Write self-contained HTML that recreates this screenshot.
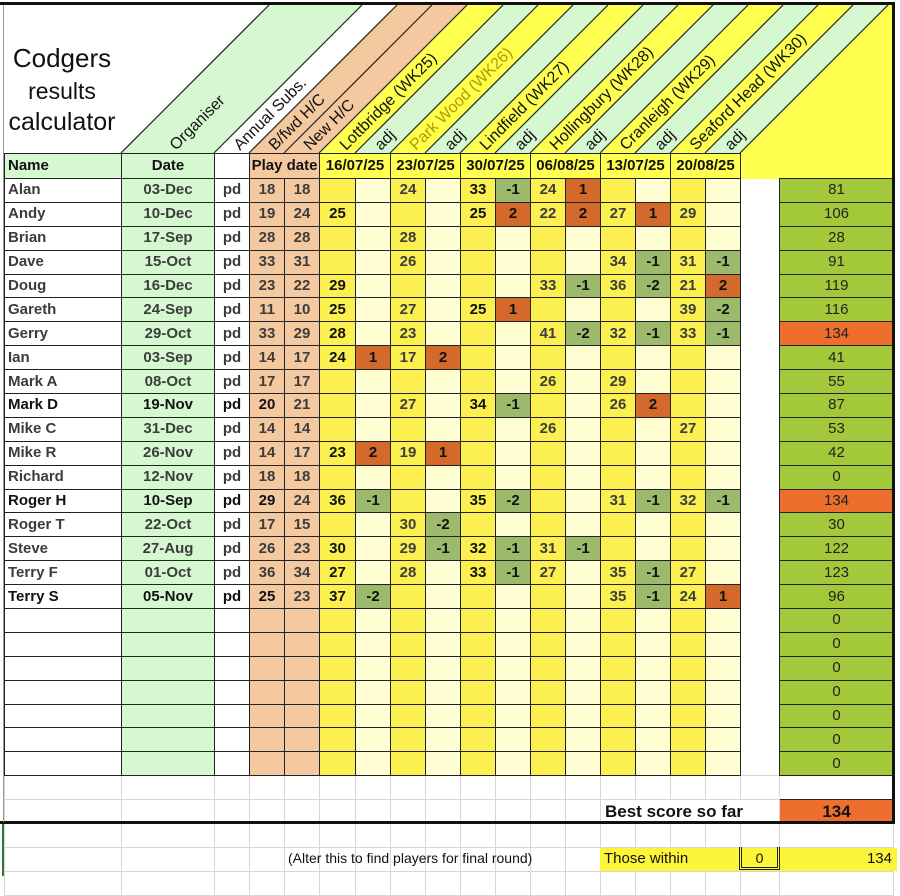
<!DOCTYPE html>
<html><head><meta charset="utf-8">
<style>
body{margin:0;background:#fff;width:900px;height:876px;position:relative;overflow:hidden;font-family:"Liberation Sans",Arial,sans-serif;}
table{position:absolute;left:4px;top:153px;border-collapse:collapse;table-layout:fixed;}
td{padding:0;border:1px solid #222;font-size:15px;font-weight:bold;text-align:center;color:#3c3c3c;overflow:hidden;white-space:nowrap;line-height:20px;}
tr.r td{height:22.9px;}
tr.hd td{height:24px;color:#111;}
td.n{background:#fff;text-align:left;padding-left:3px;}
td.d{background:#d5f8d0;}
td.p{background:#fff;}
td.h{background:#f5c9a0;}
td.s{background:#fbf04f;}
td.a{background:#fffdd2;color:#111;}
td.a.neg{background:#9dba6c;}
td.a.pos{background:#d3692b;}
td.g{background:#fff;border-top:none;border-bottom:none;}
td.t{background:#a3c93a;font-weight:normal;font-size:15px;color:#222;}
td.t.o{background:#ee6e2e;}
tr.r td:nth-child(6),tr.r td:nth-child(10){color:#111;}
tr.b td:nth-child(-n+4){color:#111;}
tr.e td{height:23px;border:1px solid #d6d6d6;background:#fff;}
td.y{background:#ffff50;}
</style></head><body>
<svg width="900" height="160" style="position:absolute;left:0;top:0">
<g stroke="none">
<polygon points="121,153 214,153 362,5 269,5" fill="#d5f8d0"/>
<polygon points="214,153 249,153 397,5 362,5" fill="#fff"/>
<polygon points="249,153 319,153 467,5 397,5" fill="#f5c9a0"/>
<polygon points="319,153 355,153 503,5 467,5" fill="#ffff50"/>
<polygon points="355,153 390,153 538,5 503,5" fill="#d5f8d0"/>
<polygon points="390,153 425,153 573,5 538,5" fill="#ffff50"/>
<polygon points="425,153 460,153 608,5 573,5" fill="#d5f8d0"/>
<polygon points="460,153 495,153 643,5 608,5" fill="#ffff50"/>
<polygon points="495,153 530,153 678,5 643,5" fill="#d5f8d0"/>
<polygon points="530,153 565,153 713,5 678,5" fill="#ffff50"/>
<polygon points="565,153 600,153 748,5 713,5" fill="#d5f8d0"/>
<polygon points="600,153 635,153 783,5 748,5" fill="#ffff50"/>
<polygon points="635,153 670,153 818,5 783,5" fill="#d5f8d0"/>
<polygon points="670,153 705,153 853,5 818,5" fill="#ffff50"/>
<polygon points="705,153 740,153 888,5 853,5" fill="#d5f8d0"/>
<polygon points="740,153 888,5 893,5 893,160 740,160" fill="#ffff50"/>
</g>
<g stroke="#222" stroke-width="1.2">
<line x1="121" y1="153" x2="269" y2="5"/><line x1="214" y1="153" x2="362" y2="5"/>
<line x1="249" y1="153" x2="397" y2="5"/><line x1="284" y1="153" x2="432" y2="5"/>
<line x1="319" y1="153" x2="467" y2="5"/><line x1="355" y1="153" x2="503" y2="5"/>
<line x1="390" y1="153" x2="538" y2="5"/><line x1="425" y1="153" x2="573" y2="5"/>
<line x1="460" y1="153" x2="608" y2="5"/><line x1="495" y1="153" x2="643" y2="5"/>
<line x1="530" y1="153" x2="678" y2="5"/><line x1="565" y1="153" x2="713" y2="5"/>
<line x1="600" y1="153" x2="748" y2="5"/><line x1="635" y1="153" x2="783" y2="5"/>
<line x1="670" y1="153" x2="818" y2="5"/><line x1="705" y1="153" x2="853" y2="5"/>
<line x1="740" y1="153" x2="888" y2="5"/>
</g>
<g font-family="Liberation Sans, Arial, sans-serif" font-size="16" fill="#111">
<text transform="translate(176,151) rotate(-45)">Organiser</text>
<text transform="translate(240,151) rotate(-45)">Annual Subs.</text>
<text transform="translate(275,151) rotate(-45)">B/fwd H/C</text>
<text transform="translate(310,151) rotate(-45)">New H/C</text>
<text transform="translate(346,151) rotate(-45)">Lottbridge (WK25)</text>
<text transform="translate(381,151) rotate(-45)">adj</text>
<text transform="translate(416,151) rotate(-45)" fill="#b59500">Park Wood (WK26)</text>
<text transform="translate(451,151) rotate(-45)">adj</text>
<text transform="translate(486,151) rotate(-45)">Lindfield (WK27)</text>
<text transform="translate(521,151) rotate(-45)">adj</text>
<text transform="translate(556,151) rotate(-45)">Hollingbury (WK28)</text>
<text transform="translate(591,151) rotate(-45)">adj</text>
<text transform="translate(626,151) rotate(-45)">Cranleigh (WK29)</text>
<text transform="translate(661,151) rotate(-45)">adj</text>
<text transform="translate(696,151) rotate(-45)">Seaford Head (WK30)</text>
<text transform="translate(731,151) rotate(-45)">adj</text>
</g>
<g font-family="Liberation Sans, Arial, sans-serif" fill="#111" text-anchor="middle">
<text x="62" y="67" font-size="26">Codgers</text>
<text x="62" y="99" font-size="23">results</text>
<text x="62" y="130" font-size="25">calculator</text>
</g>
</svg>
<table>
<colgroup><col style="width:117px"><col style="width:93px"><col style="width:35px"><col style="width:35px"><col style="width:35px"><col style="width:36px"><col style="width:35px"><col style="width:35px"><col style="width:35px"><col style="width:35px"><col style="width:35px"><col style="width:35px"><col style="width:35px"><col style="width:35px"><col style="width:35px"><col style="width:35px"><col style="width:35px"><col style="width:39px"><col style="width:114px"></colgroup>
<tr class="hd"><td class="n d" style="text-align:left;padding-left:3px;background:#d5f8d0">Name</td><td class="d" style="color:#111">Date</td><td class="p"></td><td class="h" colspan="2" style="color:#111">Play date</td><td class="y" colspan="2">16/07/25</td><td class="y" colspan="2">23/07/25</td><td class="y" colspan="2">30/07/25</td><td class="y" colspan="2">06/08/25</td><td class="y" colspan="2">13/07/25</td><td class="y" colspan="2">20/08/25</td><td class="y" style="border:none"></td><td class="y" style="border:none"></td></tr>
<tr class="r"><td class="n">Alan</td><td class="d">03-Dec</td><td class="p">pd</td><td class="h">18</td><td class="h">18</td><td class="s"></td><td class="a"></td><td class="s">24</td><td class="a"></td><td class="s">33</td><td class="a neg">-1</td><td class="s">24</td><td class="a pos">1</td><td class="s"></td><td class="a"></td><td class="s"></td><td class="a"></td><td class="g"></td><td class="t">81</td></tr>
<tr class="r"><td class="n">Andy</td><td class="d">10-Dec</td><td class="p">pd</td><td class="h">19</td><td class="h">24</td><td class="s">25</td><td class="a"></td><td class="s"></td><td class="a"></td><td class="s">25</td><td class="a pos">2</td><td class="s">22</td><td class="a pos">2</td><td class="s">27</td><td class="a pos">1</td><td class="s">29</td><td class="a"></td><td class="g"></td><td class="t">106</td></tr>
<tr class="r"><td class="n">Brian</td><td class="d">17-Sep</td><td class="p">pd</td><td class="h">28</td><td class="h">28</td><td class="s"></td><td class="a"></td><td class="s">28</td><td class="a"></td><td class="s"></td><td class="a"></td><td class="s"></td><td class="a"></td><td class="s"></td><td class="a"></td><td class="s"></td><td class="a"></td><td class="g"></td><td class="t">28</td></tr>
<tr class="r"><td class="n">Dave</td><td class="d">15-Oct</td><td class="p">pd</td><td class="h">33</td><td class="h">31</td><td class="s"></td><td class="a"></td><td class="s">26</td><td class="a"></td><td class="s"></td><td class="a"></td><td class="s"></td><td class="a"></td><td class="s">34</td><td class="a neg">-1</td><td class="s">31</td><td class="a neg">-1</td><td class="g"></td><td class="t">91</td></tr>
<tr class="r"><td class="n">Doug</td><td class="d">16-Dec</td><td class="p">pd</td><td class="h">23</td><td class="h">22</td><td class="s">29</td><td class="a"></td><td class="s"></td><td class="a"></td><td class="s"></td><td class="a"></td><td class="s">33</td><td class="a neg">-1</td><td class="s">36</td><td class="a neg">-2</td><td class="s">21</td><td class="a pos">2</td><td class="g"></td><td class="t">119</td></tr>
<tr class="r"><td class="n">Gareth</td><td class="d">24-Sep</td><td class="p">pd</td><td class="h">11</td><td class="h">10</td><td class="s">25</td><td class="a"></td><td class="s">27</td><td class="a"></td><td class="s">25</td><td class="a pos">1</td><td class="s"></td><td class="a"></td><td class="s"></td><td class="a"></td><td class="s">39</td><td class="a neg">-2</td><td class="g"></td><td class="t">116</td></tr>
<tr class="r"><td class="n">Gerry</td><td class="d">29-Oct</td><td class="p">pd</td><td class="h">33</td><td class="h">29</td><td class="s">28</td><td class="a"></td><td class="s">23</td><td class="a"></td><td class="s"></td><td class="a"></td><td class="s">41</td><td class="a neg">-2</td><td class="s">32</td><td class="a neg">-1</td><td class="s">33</td><td class="a neg">-1</td><td class="g"></td><td class="t o">134</td></tr>
<tr class="r"><td class="n">Ian</td><td class="d">03-Sep</td><td class="p">pd</td><td class="h">14</td><td class="h">17</td><td class="s">24</td><td class="a pos">1</td><td class="s">17</td><td class="a pos">2</td><td class="s"></td><td class="a"></td><td class="s"></td><td class="a"></td><td class="s"></td><td class="a"></td><td class="s"></td><td class="a"></td><td class="g"></td><td class="t">41</td></tr>
<tr class="r"><td class="n">Mark A</td><td class="d">08-Oct</td><td class="p">pd</td><td class="h">17</td><td class="h">17</td><td class="s"></td><td class="a"></td><td class="s"></td><td class="a"></td><td class="s"></td><td class="a"></td><td class="s">26</td><td class="a"></td><td class="s">29</td><td class="a"></td><td class="s"></td><td class="a"></td><td class="g"></td><td class="t">55</td></tr>
<tr class="r b"><td class="n">Mark D</td><td class="d">19-Nov</td><td class="p">pd</td><td class="h">20</td><td class="h">21</td><td class="s"></td><td class="a"></td><td class="s">27</td><td class="a"></td><td class="s">34</td><td class="a neg">-1</td><td class="s"></td><td class="a"></td><td class="s">26</td><td class="a pos">2</td><td class="s"></td><td class="a"></td><td class="g"></td><td class="t">87</td></tr>
<tr class="r"><td class="n">Mike C</td><td class="d">31-Dec</td><td class="p">pd</td><td class="h">14</td><td class="h">14</td><td class="s"></td><td class="a"></td><td class="s"></td><td class="a"></td><td class="s"></td><td class="a"></td><td class="s">26</td><td class="a"></td><td class="s"></td><td class="a"></td><td class="s">27</td><td class="a"></td><td class="g"></td><td class="t">53</td></tr>
<tr class="r"><td class="n">Mike R</td><td class="d">26-Nov</td><td class="p">pd</td><td class="h">14</td><td class="h">17</td><td class="s">23</td><td class="a pos">2</td><td class="s">19</td><td class="a pos">1</td><td class="s"></td><td class="a"></td><td class="s"></td><td class="a"></td><td class="s"></td><td class="a"></td><td class="s"></td><td class="a"></td><td class="g"></td><td class="t">42</td></tr>
<tr class="r"><td class="n">Richard</td><td class="d">12-Nov</td><td class="p">pd</td><td class="h">18</td><td class="h">18</td><td class="s"></td><td class="a"></td><td class="s"></td><td class="a"></td><td class="s"></td><td class="a"></td><td class="s"></td><td class="a"></td><td class="s"></td><td class="a"></td><td class="s"></td><td class="a"></td><td class="g"></td><td class="t">0</td></tr>
<tr class="r b"><td class="n">Roger H</td><td class="d">10-Sep</td><td class="p">pd</td><td class="h">29</td><td class="h">24</td><td class="s">36</td><td class="a neg">-1</td><td class="s"></td><td class="a"></td><td class="s">35</td><td class="a neg">-2</td><td class="s"></td><td class="a"></td><td class="s">31</td><td class="a neg">-1</td><td class="s">32</td><td class="a neg">-1</td><td class="g"></td><td class="t o">134</td></tr>
<tr class="r"><td class="n">Roger T</td><td class="d">22-Oct</td><td class="p">pd</td><td class="h">17</td><td class="h">15</td><td class="s"></td><td class="a"></td><td class="s">30</td><td class="a neg">-2</td><td class="s"></td><td class="a"></td><td class="s"></td><td class="a"></td><td class="s"></td><td class="a"></td><td class="s"></td><td class="a"></td><td class="g"></td><td class="t">30</td></tr>
<tr class="r"><td class="n">Steve</td><td class="d">27-Aug</td><td class="p">pd</td><td class="h">26</td><td class="h">23</td><td class="s">30</td><td class="a"></td><td class="s">29</td><td class="a neg">-1</td><td class="s">32</td><td class="a neg">-1</td><td class="s">31</td><td class="a neg">-1</td><td class="s"></td><td class="a"></td><td class="s"></td><td class="a"></td><td class="g"></td><td class="t">122</td></tr>
<tr class="r"><td class="n">Terry F</td><td class="d">01-Oct</td><td class="p">pd</td><td class="h">36</td><td class="h">34</td><td class="s">27</td><td class="a"></td><td class="s">28</td><td class="a"></td><td class="s">33</td><td class="a neg">-1</td><td class="s">27</td><td class="a"></td><td class="s">35</td><td class="a neg">-1</td><td class="s">27</td><td class="a"></td><td class="g"></td><td class="t">123</td></tr>
<tr class="r b"><td class="n">Terry S</td><td class="d">05-Nov</td><td class="p">pd</td><td class="h">25</td><td class="h">23</td><td class="s">37</td><td class="a neg">-2</td><td class="s"></td><td class="a"></td><td class="s"></td><td class="a"></td><td class="s"></td><td class="a"></td><td class="s">35</td><td class="a neg">-1</td><td class="s">24</td><td class="a pos">1</td><td class="g"></td><td class="t">96</td></tr>
<tr class="r"><td class="n"></td><td class="d"></td><td class="p"></td><td class="h"></td><td class="h"></td><td class="s"></td><td class="a"></td><td class="s"></td><td class="a"></td><td class="s"></td><td class="a"></td><td class="s"></td><td class="a"></td><td class="s"></td><td class="a"></td><td class="s"></td><td class="a"></td><td class="g"></td><td class="t">0</td></tr>
<tr class="r"><td class="n"></td><td class="d"></td><td class="p"></td><td class="h"></td><td class="h"></td><td class="s"></td><td class="a"></td><td class="s"></td><td class="a"></td><td class="s"></td><td class="a"></td><td class="s"></td><td class="a"></td><td class="s"></td><td class="a"></td><td class="s"></td><td class="a"></td><td class="g"></td><td class="t">0</td></tr>
<tr class="r"><td class="n"></td><td class="d"></td><td class="p"></td><td class="h"></td><td class="h"></td><td class="s"></td><td class="a"></td><td class="s"></td><td class="a"></td><td class="s"></td><td class="a"></td><td class="s"></td><td class="a"></td><td class="s"></td><td class="a"></td><td class="s"></td><td class="a"></td><td class="g"></td><td class="t">0</td></tr>
<tr class="r"><td class="n"></td><td class="d"></td><td class="p"></td><td class="h"></td><td class="h"></td><td class="s"></td><td class="a"></td><td class="s"></td><td class="a"></td><td class="s"></td><td class="a"></td><td class="s"></td><td class="a"></td><td class="s"></td><td class="a"></td><td class="s"></td><td class="a"></td><td class="g"></td><td class="t">0</td></tr>
<tr class="r"><td class="n"></td><td class="d"></td><td class="p"></td><td class="h"></td><td class="h"></td><td class="s"></td><td class="a"></td><td class="s"></td><td class="a"></td><td class="s"></td><td class="a"></td><td class="s"></td><td class="a"></td><td class="s"></td><td class="a"></td><td class="s"></td><td class="a"></td><td class="g"></td><td class="t">0</td></tr>
<tr class="r"><td class="n"></td><td class="d"></td><td class="p"></td><td class="h"></td><td class="h"></td><td class="s"></td><td class="a"></td><td class="s"></td><td class="a"></td><td class="s"></td><td class="a"></td><td class="s"></td><td class="a"></td><td class="s"></td><td class="a"></td><td class="s"></td><td class="a"></td><td class="g"></td><td class="t">0</td></tr>
<tr class="r"><td class="n"></td><td class="d"></td><td class="p"></td><td class="h"></td><td class="h"></td><td class="s"></td><td class="a"></td><td class="s"></td><td class="a"></td><td class="s"></td><td class="a"></td><td class="s"></td><td class="a"></td><td class="s"></td><td class="a"></td><td class="s"></td><td class="a"></td><td class="g"></td><td class="t">0</td></tr>
<tr class="e"><td></td><td></td><td></td><td></td><td></td><td></td><td></td><td></td><td></td><td></td><td></td><td></td><td></td><td></td><td></td><td></td><td></td><td></td><td style="border-color:#222"></td></tr>
<tr class="e"><td></td><td></td><td></td><td></td><td></td><td></td><td></td><td></td><td></td><td></td><td></td><td></td><td></td><td colspan="5" style="text-align:left;padding-left:4px;color:#111;font-size:17px;border-left-color:#d6d6d6">Best score so far</td><td style="background:#ee6e2e;color:#111;font-size:17px;border-color:#222">134</td></tr>
<tr class="e"><td></td><td></td><td></td><td></td><td></td><td></td><td></td><td></td><td></td><td></td><td></td><td></td><td></td><td></td><td></td><td></td><td></td><td></td><td></td></tr>
<tr class="e"><td></td><td></td><td></td><td></td><td></td><td></td><td></td><td></td><td></td><td></td><td></td><td></td><td></td><td></td><td></td><td></td><td></td><td></td><td></td></tr>
<tr class="e"><td></td><td></td><td></td><td></td><td></td><td></td><td></td><td></td><td></td><td></td><td></td><td></td><td></td><td></td><td></td><td></td><td></td><td></td><td></td></tr>
</table>
<div style="position:absolute;left:288px;top:850px;font-size:14px;color:#111;">(Alter this to find players for final round)</div>
<div style="position:absolute;left:600px;top:848px;width:297px;height:23px;background:#fcf53a;"></div>
<div style="position:absolute;left:604px;top:850px;font-size:15px;color:#111;">Those within</div>
<div style="position:absolute;left:739px;top:847px;width:35px;height:20px;border:3px double #222;border-top:none;text-align:center;font-size:14px;line-height:22px;color:#111;">0</div>
<div style="position:absolute;right:8px;top:850px;font-size:15px;color:#111;">134</div>
<div style="position:absolute;left:0;top:2px;width:894px;height:3px;background:#111;"></div>
<div style="position:absolute;left:892px;top:2px;width:3px;height:822px;background:#111;"></div>
<div style="position:absolute;left:0;top:821px;width:895px;height:3px;background:#111;"></div>
<div style="position:absolute;left:3px;top:5px;width:1px;height:817px;background:#999;"></div>
<div style="position:absolute;left:2px;top:824px;width:2px;height:52px;background:#2e7a35;"></div>
</body></html>
